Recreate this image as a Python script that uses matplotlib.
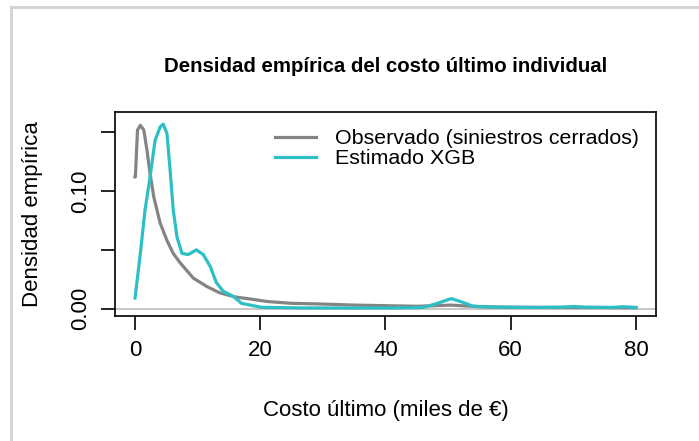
import matplotlib.pyplot as plt
from matplotlib.lines import Line2D

plt.rcParams['font.family'] = ['Liberation Sans', 'DejaVu Sans']

# densidad observada (siniestros cerrados), miles de euros
x_obs = [0.0, 0.05, 0.4, 0.85, 1.4, 1.9, 2.4, 3.0, 3.5, 4.0, 5.1, 6.1, 7.2,
         9.3, 11.4, 13.5, 15.9, 18.6, 21.2, 25.0, 29.2, 35.0, 40.0, 45.0,
         48.0, 50.5, 53.0, 56.0, 60.0, 65.0, 70.0, 75.0, 80.0]
y_obs = [0.112, 0.112, 0.152, 0.156, 0.152, 0.135, 0.115, 0.095, 0.084, 0.073,
         0.058, 0.047, 0.039, 0.026, 0.019, 0.0135, 0.0100, 0.008, 0.006,
         0.0045, 0.004, 0.003, 0.0025, 0.002, 0.0025, 0.003, 0.0022, 0.0015,
         0.0012, 0.001, 0.001, 0.0009, 0.0008]

# densidad estimada con XGB
x_xgb = [0.0, 0.85, 1.6, 2.4, 3.2, 4.0, 4.5, 5.1, 5.6, 6.1, 6.7, 7.5, 8.5,
         9.8, 10.9, 12.0, 13.0, 14.1, 15.7, 17.0, 20.2, 26.5, 35.0, 42.0,
         46.0, 48.0, 50.5, 52.0, 54.0, 58.0, 64.0, 68.0, 70.0, 72.0, 76.0,
         78.0, 80.0]
y_xgb = [0.009, 0.047, 0.084, 0.112, 0.143, 0.1545, 0.157, 0.149, 0.118,
         0.084, 0.061, 0.047, 0.046, 0.050, 0.046, 0.036, 0.022, 0.0147,
         0.0104, 0.0045, 0.0011, 0.0006, 0.0005, 0.0006, 0.001, 0.004, 0.0085,
         0.006, 0.002, 0.0012, 0.001, 0.0012, 0.0018, 0.0012, 0.001, 0.0016,
         0.001]

fig = plt.figure(figsize=(6.99, 4.41), dpi=100)
ax = fig.add_axes([0.1645, 0.2834, 0.774, 0.4626])

ax.axhline(0, color='#bdbdbd', lw=1.2, zorder=1)
ax.plot(x_obs, y_obs, color='#848484', lw=2.3, label='Observado (siniestros cerrados)')
ax.plot(x_xgb, y_xgb, color='#2dbfc6', lw=2.3, label='Estimado XGB')

ax.set_xlim(-3.2, 83.2)
ax.set_ylim(-0.0063, 0.1673)
ax.set_xticks([0, 20, 40, 60, 80])
ax.set_yticks([0.0, 0.05, 0.10, 0.15])
ax.set_yticklabels(['0.00', '', '0.10', ''], rotation=90, va='center')
ax.tick_params(direction='out', length=10, width=1.2, labelsize=16, pad=7)
for s in ax.spines.values():
    s.set_linewidth(1.2)

ax.set_title('Densidad empírica del costo último individual',
             fontsize=14.7, fontweight='bold', pad=29)
ax.set_xlabel('Costo último (miles de €)', fontsize=16, labelpad=28)
ax.set_ylabel('Densidad empírica', fontsize=16, labelpad=20)

ax.legend(loc='upper right', frameon=False, fontsize=15.4, handlelength=1.92,
          handletextpad=0.9, labelspacing=0.05, borderaxespad=0.5,
          borderpad=0.3)

# marco gris claro de la imagen
fig.add_artist(Line2D([11 / 699, 1], [1 - 7 / 441, 1 - 7 / 441], color='#d2d2d2', lw=2))
fig.add_artist(Line2D([11 / 699, 11 / 699], [0, 1 - 7 / 441], color='#d2d2d2', lw=2))

fig.savefig('out.png', dpi=100)
